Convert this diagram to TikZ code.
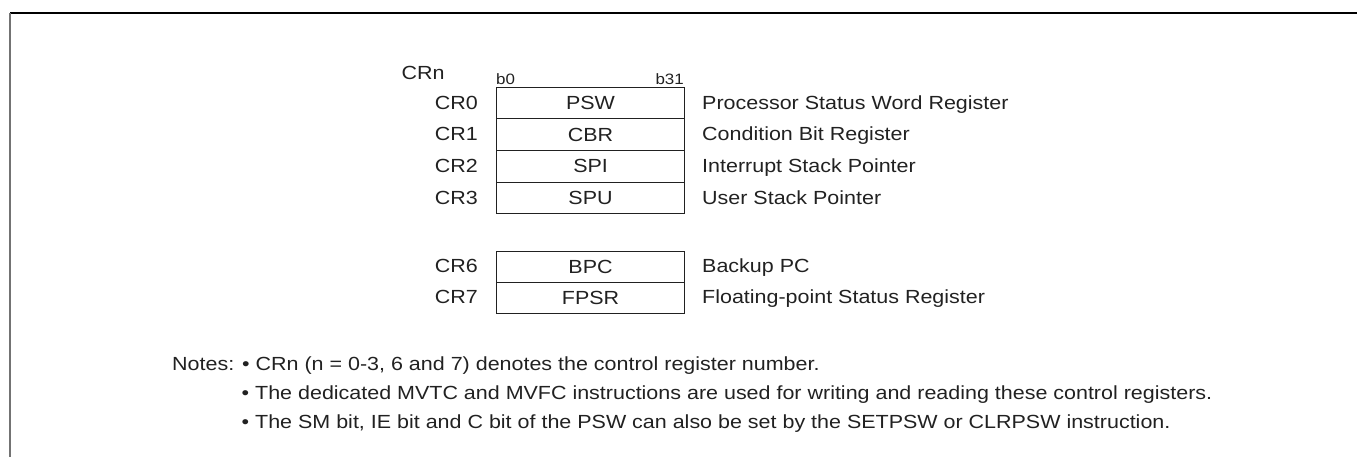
\documentclass[tikz,border=0pt]{standalone}
\usepackage{fontspec}
\setmainfont[FakeStretch=1.13]{Liberation Sans}
\definecolor{ink}{gray}{0.13}
\definecolor{rule}{gray}{0.45}
\begin{document}
\begin{tikzpicture}[x=1pt,y=-1pt,
  txt/.style={font=\fontsize{19}{22}\selectfont, text=ink, inner sep=0pt},
  small/.style={font=\fontsize{15}{18}\selectfont, text=ink, inner sep=0pt},
  reg/.style={draw=ink, line width=1.1pt, minimum width=188pt, inner sep=0pt,
    anchor=north west, font=\fontsize{19}{22}\selectfont, text=ink},
  rowA/.style={reg, minimum height=31.65pt},
  rowB/.style={reg, minimum height=31pt}]
\useasboundingbox (0,0) rectangle (1357,457);
% frame
\draw[line width=1.4pt] (10,13) -- (1357,13);
\draw[rule, line width=2pt] (10,13) -- (10,457);

% header
\node[txt, anchor=base west] (crn) at (401.5,80) {CRn};
\node[small, anchor=base west] (b0) at (496,84.5) {b0};
\node[small, anchor=base east] (b31) at (684,84.5) {b31};

% control registers CR0-CR3
\node[rowA] (psw) at (496,86.7) {PSW};
\node[rowA] (cbr) at (496,118.35) {CBR};
\node[rowA] (spi) at (496,150.0) {SPI};
\node[rowA] (spu) at (496,181.65) {SPU};

% control registers CR6-CR7
\node[rowB] (bpc) at (496,250.7) {BPC};
\node[rowB] (fpsr) at (496,281.7) {FPSR};

% register numbers
\node[txt, anchor=base east] (cr0) at (478,109.1) {CR0};
\node[txt, anchor=base east] (cr1) at (478,140.8) {CR1};
\node[txt, anchor=base east] (cr2) at (478,172.4) {CR2};
\node[txt, anchor=base east] (cr3) at (478,204.1) {CR3};
\node[txt, anchor=base east] (cr6) at (478,272.8) {CR6};
\node[txt, anchor=base east] (cr7) at (478,303.8) {CR7};

% register descriptions
\node[txt, anchor=base west] (dpsw) at (702,109.1) {Processor Status Word Register};
\node[txt, anchor=base west] (dcbr) at (702,140.8) {Condition Bit Register};
\node[txt, anchor=base west] (dspi) at (702,172.4) {Interrupt Stack Pointer};
\node[txt, anchor=base west] (dspu) at (702,204.1) {User Stack Pointer};
\node[txt, anchor=base west] (dbpc) at (702,272.8) {Backup PC};
\node[txt, anchor=base west] (dfpsr) at (702,303.8) {Floating-point Status Register};

% notes
\node[txt, anchor=base west] (n1) at (172,370) {Notes: \textbullet\ CRn (n = 0-3, 6 and 7) denotes the control register number.};
\node[txt, anchor=base west] (n2) at (241.5,399.5) {\textbullet\ The dedicated MVTC and MVFC instructions are used for writing and reading these control registers.};
\node[txt, anchor=base west] (n3) at (241.5,428.3) {\textbullet\ The SM bit, IE bit and C bit of the PSW can also be set by the SETPSW or CLRPSW instruction.};
\end{tikzpicture}
\end{document}
